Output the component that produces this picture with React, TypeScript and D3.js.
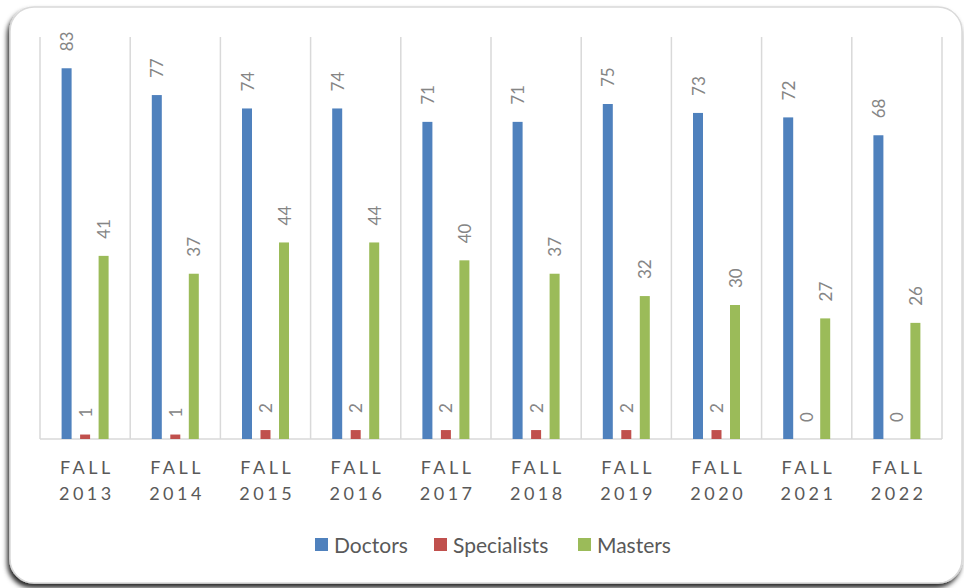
import * as d3 from 'd3';

const categories = ['2013', '2014', '2015', '2016', '2017', '2018', '2019', '2020', '2021', '2022'];
const doctors = [83, 77, 74, 74, 71, 71, 75, 73, 72, 68];
const specialists = [1, 1, 2, 2, 2, 2, 2, 2, 0, 0];
const masters = [41, 37, 44, 44, 40, 37, 32, 30, 27, 26];
const seriesNames = ['Doctors', 'Specialists', 'Masters'];
const colors = ['#4F81BD', '#C0504D', '#9BBB59'];

const W = 964;
const H = 588;
const plot = { left: 40, right: 942, top: 37, bottom: 439 };
const font = 'Lato, Carlito, Calibri, sans-serif';
const textColor = '#595959';

export default function App() {
  const x = d3.scaleBand<string>()
    .domain(categories)
    .range([plot.left, plot.right])
    .padding(0);
  const y = d3.scaleLinear()
    .domain([0, 90])
    .range([plot.bottom, plot.top]);

  const series = [doctors, specialists, masters];
  const barW = 10;
  const step = 18.5;

  return (
    <div style={{ position: 'fixed', left: 0, top: 0 }}>
      <svg width={W} height={H} style={{ display: 'block' }}>
        <defs>
          <filter id="shadow" x="-5%" y="-5%" width="110%" height="115%">
            <feDropShadow dx={-2} dy={4} stdDeviation={2.5} floodColor="#000" floodOpacity={0.85} />
          </filter>
        </defs>
        <rect x={0} y={0} width={W} height={H} fill="#fff" />
        <rect x={10} y={7} width={952} height={576} rx={24} ry={24}
          fill="#fff" stroke="#D9D9D9" strokeWidth={1.5} filter="url(#shadow)" />

        {/* vertical gridlines at band edges */}
        {categories.map(c => (
          <line key={'g' + c} x1={x(c)!} x2={x(c)!} y1={plot.top} y2={plot.bottom}
            stroke="#D9D9D9" strokeWidth={1.5} />
        ))}
        <line x1={plot.right} x2={plot.right} y1={plot.top} y2={plot.bottom} stroke="#D9D9D9" strokeWidth={1.5} />
        <line x1={plot.left} x2={plot.right} y1={plot.bottom} y2={plot.bottom} stroke="#D9D9D9" strokeWidth={1.5} />

        {series.map((vals, si) => (
          <g key={'s' + si}>
            {vals.map((v, i) => {
              const cx = x(categories[i])! + x.bandwidth() / 2 + (si - 1) * step;
              const top = y(v);
              return (
                <g key={i}>
                  <rect x={cx - barW / 2} y={top} width={barW} height={plot.bottom - top} fill={colors[si]} />
                  <text
                    transform={`translate(${cx + 6.5},${top - 17}) rotate(-90)`}
                    fontFamily={font} fontSize={17} fontWeight={400} fill="#858585">
                    {v}
                  </text>
                </g>
              );
            })}
          </g>
        ))}

        {categories.map(c => {
          const cx = x(c)! + x.bandwidth() / 2;
          return (
            <g key={'l' + c} fontFamily={font} fontSize={18} fill={textColor} textAnchor="middle" letterSpacing={3.5}>
              <text x={cx + 1.75} y={474}>FALL</text>
              <text x={cx + 1.75} y={500}>{c}</text>
            </g>
          );
        })}

        <g fontFamily={font} fontSize={21} fill={textColor}>
          {seriesNames.map((n, i) => {
            const lx = [315, 434, 578][i];
            return (
              <g key={n}>
                <rect x={lx} y={538} width={13} height={13} fill={colors[i]} />
                <text x={lx + 19} y={552.5}>{n}</text>
              </g>
            );
          })}
        </g>
      </svg>
    </div>
  );
}
